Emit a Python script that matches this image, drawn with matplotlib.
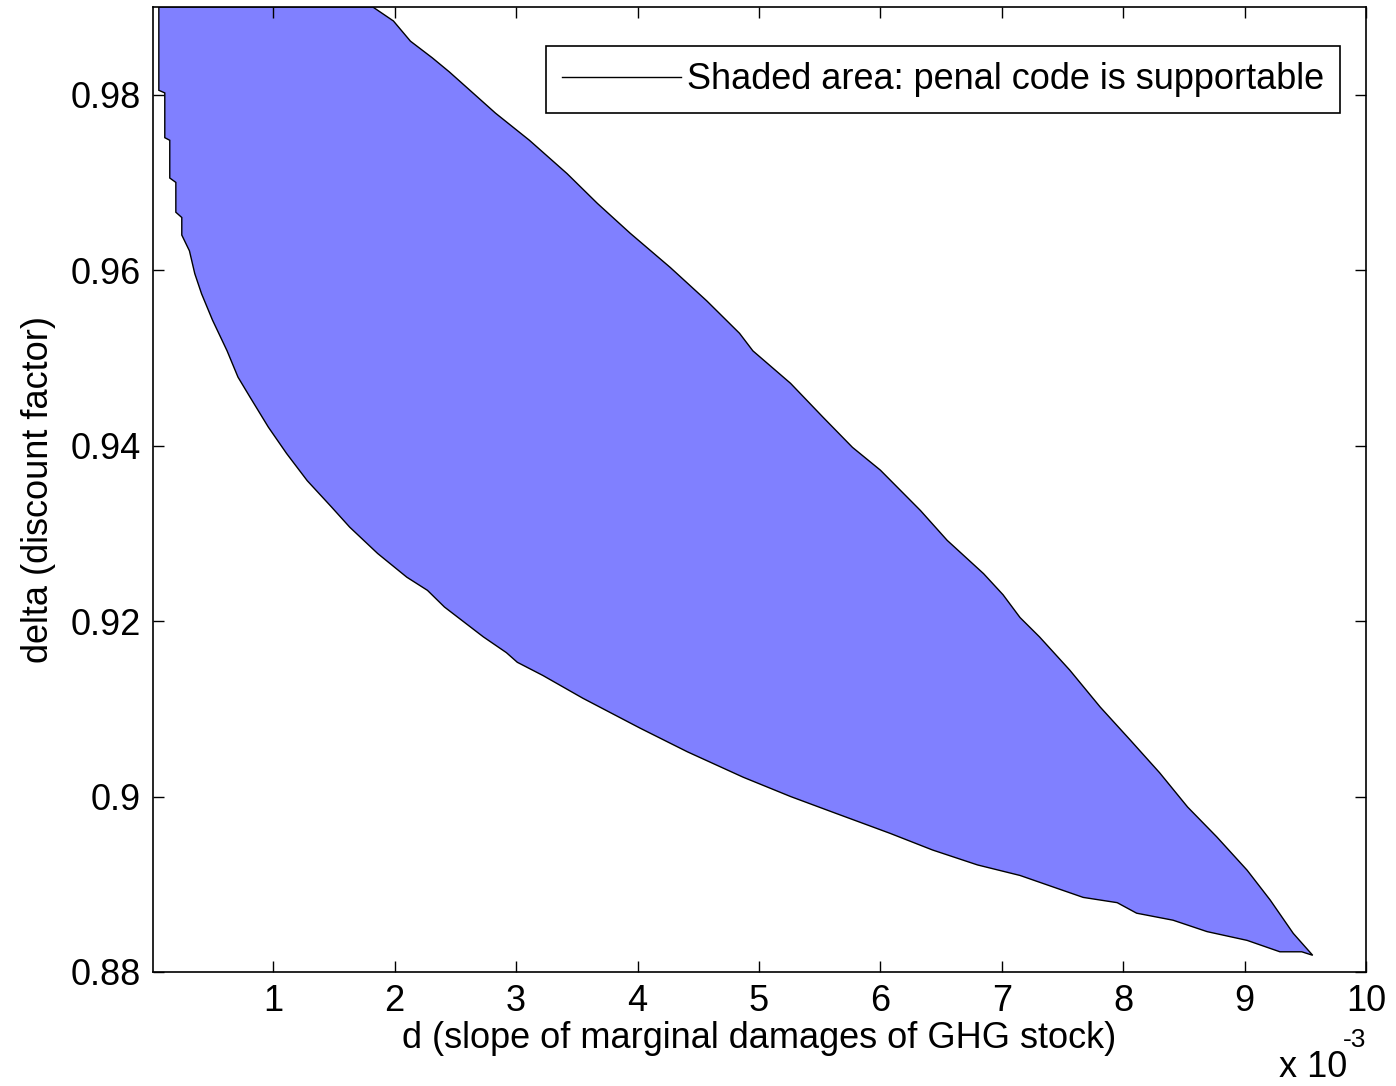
import matplotlib
matplotlib.use("Agg")
import matplotlib.pyplot as plt
from matplotlib.lines import Line2D
import numpy as np

plt.rcParams["font.family"] = ["Liberation Sans", "DejaVu Sans"]

# d values in units of 1e-3
upper_d = [0.058, 1.82, 1.99, 2.13, 2.31, 2.45, 2.62, 2.83, 3.11, 3.42, 3.67, 3.94,
           4.27, 4.57, 4.84, 4.95, 5.26, 5.53, 5.77, 6.00, 6.33, 6.55, 6.85, 7.01,
           7.15, 7.31, 7.56, 7.81, 8.06, 8.30, 8.53, 8.77, 9.02, 9.21, 9.40, 9.56]
upper_delta = [0.9900, 0.9900, 0.9884, 0.9861, 0.9842, 0.9826, 0.9805, 0.9779, 0.9748,
               0.9710, 0.9676, 0.9642, 0.9603, 0.9565, 0.9528, 0.9508, 0.9471, 0.9432,
               0.9398, 0.9372, 0.9326, 0.9292, 0.9254, 0.9230, 0.9204, 0.9182, 0.9144,
               0.9102, 0.9064, 0.9027, 0.8988, 0.8954, 0.8916, 0.8882, 0.8844, 0.8819]

lower_d = [0.058, 0.058, 0.107, 0.107, 0.148, 0.148, 0.198, 0.198, 0.247, 0.247, 0.31,
           0.354, 0.41, 0.50, 0.62, 0.71, 0.81, 0.96, 1.11, 1.28, 1.48, 1.63, 1.86,
           2.10, 2.27, 2.41, 2.73, 2.92, 3.01, 3.22, 3.55, 4.02, 4.41, 4.87, 5.26,
           5.61, 6.08, 6.43, 6.80, 7.15, 7.42, 7.67, 7.95, 8.11, 8.41, 8.69, 9.02,
           9.29, 9.47, 9.56]
lower_delta = [0.9900, 0.9805, 0.9802, 0.9751, 0.9748, 0.9705, 0.9700, 0.9666, 0.9660,
               0.9640, 0.9622, 0.9596, 0.9573, 0.9543, 0.9508, 0.9478, 0.9455, 0.9421,
               0.9391, 0.9360, 0.9330, 0.9307, 0.9277, 0.9250, 0.9235, 0.9216, 0.9182,
               0.9164, 0.9153, 0.9138, 0.9112, 0.9078, 0.9051, 0.9022, 0.9000, 0.8982,
               0.8958, 0.8939, 0.8922, 0.8910, 0.8897, 0.8885, 0.8879, 0.8867, 0.8859,
               0.8846, 0.8836, 0.8823, 0.8823, 0.8819]

xticks = [1, 2, 3, 4, 5, 6, 7, 8, 9, 10]
yticks = [0.88, 0.90, 0.92, 0.94, 0.96, 0.98]

fig = plt.figure(figsize=(13.96, 10.86), dpi=100)
ax = fig.add_axes([0.1096, 0.105, 0.869, 0.8886])

poly_x = np.concatenate([upper_d, lower_d[::-1]])
poly_y = np.concatenate([upper_delta, lower_delta[::-1]])
ax.fill(poly_x, poly_y, facecolor="#8080ff", edgecolor="black", linewidth=1.0)

ax.set_xlim(0.01, 10)
ax.set_ylim(0.88, 0.99)
ax.set_xticks(xticks)
ax.set_xticklabels([str(t) for t in xticks])
ax.set_yticks(yticks)
ax.set_yticklabels(["%g" % t for t in yticks])
ax.tick_params(direction="in", length=8, width=1, labelsize=26,
               top=True, right=True, pad=9)
for s in ax.spines.values():
    s.set_linewidth(1.2)

ax.set_xlabel("d (slope of marginal damages of GHG stock)", fontsize=26, labelpad=1)
ax.set_ylabel("delta (discount factor)", fontsize=26, labelpad=10)
fig.text(0.916, 0.008, "x 10", fontsize=26)
fig.text(0.962, 0.036, "-3", fontsize=19)

handle = Line2D([], [], color="black", linewidth=1.0)
leg = ax.legend([handle], ["Shaded area: penal code is supportable"], loc="upper right",
                fontsize=26, fancybox=False, framealpha=1, edgecolor="black",
                handlelength=3.3, borderaxespad=0.0, bbox_to_anchor=(0.9786, 0.9596),
                borderpad=0.45, handletextpad=0.15)
leg.get_frame().set_linewidth(1.2)

fig.savefig("out.png", dpi=100)
